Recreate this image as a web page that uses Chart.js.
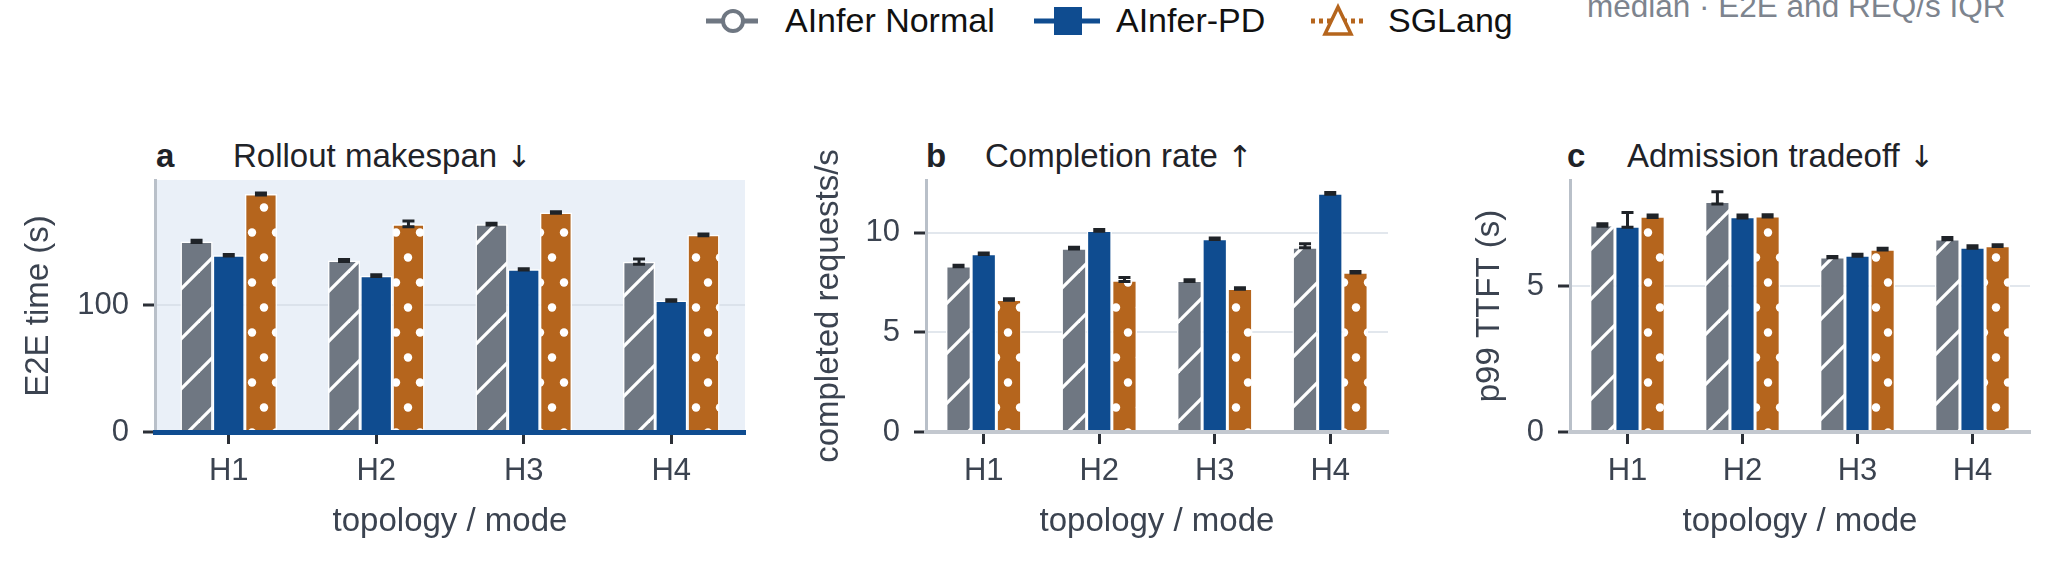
<!DOCTYPE html>
<html>
<head>
<meta charset="utf-8">
<script src="https://cdn.jsdelivr.net/npm/chart.js@4.4.1/dist/chart.umd.min.js"></script>
<style>
  body { margin: 0; width: 2048px; height: 572px; background: #fff; position: relative; overflow: hidden;
         font-family: "Liberation Sans", Arial, sans-serif; }
  canvas { position: absolute; }
  .txt { position: absolute; white-space: nowrap; font-size: 33px; line-height: 32px; color: #1f2328; }
  .arr { font-family: "DejaVu Sans", sans-serif; font-size: 30px; }
  .leg { position: absolute; white-space: nowrap; font-size: 34px; line-height: 34px; color: #111; }
  svg { position: absolute; }
</style>
</head>
<body>
<!-- legend -->
<svg style="left:704px;top:6px" width="56" height="30">
  <line x1="2" y1="15" x2="54" y2="15" stroke="#6f7782" stroke-width="5"/>
  <circle cx="29" cy="15" r="10" fill="#fff" stroke="#6f7782" stroke-width="4"/>
</svg>
<div class="leg" style="left:785px;top:3px">AInfer Normal</div>
<svg style="left:1034px;top:5px" width="68" height="32">
  <line x1="0" y1="16" x2="66" y2="16" stroke="#0f4c90" stroke-width="5"/>
  <rect x="20" y="2" width="28" height="28" fill="#0f4c90"/>
</svg>
<div class="leg" style="left:1116px;top:3px">AInfer-PD</div>
<svg style="left:1309px;top:3px" width="58" height="36">
  <line x1="2" y1="18" x2="56" y2="18" stroke="#b5651d" stroke-width="5" stroke-dasharray="4 4"/>
  <polygon points="29,4 16,31 42,31" fill="#fff" stroke="#b5651d" stroke-width="3.5"/>
</svg>
<div class="leg" style="left:1388px;top:3px">SGLang</div>
<div class="txt" style="left:1587px;top:-10px;font-size:31.5px;color:#7d848e">median · E2E and REQ/s IQR</div>

<!-- panel titles -->
<div class="txt" style="left:156px;top:140px;font-weight:bold">a</div>
<div class="txt" style="left:233px;top:140px">Rollout makespan <span class="arr">↓</span></div>
<div class="txt" style="left:926px;top:140px;font-weight:bold">b</div>
<div class="txt" style="left:985px;top:140px">Completion rate <span class="arr">↑</span></div>
<div class="txt" style="left:1567px;top:140px;font-weight:bold">c</div>
<div class="txt" style="left:1627px;top:140px">Admission tradeoff <span class="arr">↓</span></div>

<canvas id="panelA" width="760" height="452" style="left:0px;top:120px"></canvas>
<canvas id="panelB" width="620" height="452" style="left:780px;top:120px"></canvas>
<canvas id="panelC" width="628" height="452" style="left:1420px;top:120px"></canvas>

<script>
const categories = ['H1', 'H2', 'H3', 'H4'];
const seriesNames = ['AInfer Normal', 'AInfer-PD', 'SGLang'];
const seriesColors = ['#6f7782', '#0f4c90', '#b5651d'];

// a: rollout makespan, E2E time (s), median + IQR
const e2eNormal = [150.3, 135.3, 163.9, 134.3];
const e2ePD = [139.3, 123.3, 128.3, 103.7];
const e2eSGLang = [187.7, 163.9, 173.0, 155.5];
const e2eNormalIqr = [[149.5, 151.1], [134.5, 136.1], [163.3, 164.5], [132.3, 136.5]];
const e2ePDIqr = [[138.7, 139.9], [122.7, 123.9], [127.8, 128.8], [103.1, 104.3]];
const e2eSGLangIqr = [[186.9, 188.5], [161.9, 166.3], [172.4, 173.6], [154.8, 156.2]];
const e2eTicks = [0, 100];

// b: completion rate, completed requests/s
const reqNormal = [8.33, 9.23, 7.60, 9.28];
const reqPD = [8.95, 10.12, 9.70, 11.98];
const reqSGLang = [6.65, 7.62, 7.20, 8.02];
const reqNormalIqr = [[8.29, 8.37], [9.19, 9.27], [7.56, 7.64], [9.25, 9.45]];
const reqPDIqr = [[8.91, 8.99], [10.08, 10.16], [9.66, 9.74], [11.94, 12.02]];
const reqSGLangIqr = [[6.61, 6.69], [7.55, 7.75], [7.16, 7.24], [7.98, 8.06]];
const reqTicks = [0, 5, 10];

// c: admission tradeoff, p99 TTFT (s)
const ttftNormal = [7.09, 7.89, 5.99, 6.61];
const ttftPD = [7.05, 7.375, 6.05, 6.33];
const ttftSGLang = [7.39, 7.40, 6.26, 6.38];
const ttftNormalIqr = [[7.05, 7.13], [7.81, 8.23], [5.97, 6.01], [6.58, 6.66]];
const ttftPDIqr = [[7.01, 7.52], [7.33, 7.43], [6.02, 6.09], [6.29, 6.38]];
const ttftSGLangIqr = [[7.35, 7.43], [7.36, 7.44], [6.23, 6.29], [6.35, 6.41]];
const ttftTicks = [0, 5];

const FONT = '"Liberation Sans", Arial, sans-serif';
const INK = '#3b4350';
Chart.defaults.font.family = FONT;

function hatchPattern(color) {
    const c = document.createElement('canvas');
    c.width = 50; c.height = 50;
    const g = c.getContext('2d');
    g.fillStyle = color;
    g.fillRect(0, 0, 50, 50);
    g.strokeStyle = '#fff';
    g.lineWidth = 3.3;
    for (const off of [-50, 0, 50]) {
        g.beginPath();
        g.moveTo(-10 + off, 60);
        g.lineTo(60 + off, -10);
        g.stroke();
    }
    return g.createPattern(c, 'repeat');
}

function dotPattern(color) {
    const c = document.createElement('canvas');
    c.width = 24; c.height = 50;
    const g = c.getContext('2d');
    g.fillStyle = color;
    g.fillRect(0, 0, 24, 50);
    g.fillStyle = '#fff';
    for (const [x, y] of [[12, 12.5], [0, 37.5], [24, 37.5]]) {
        g.beginPath();
        g.arc(x, y, 4.2, 0, Math.PI * 2);
        g.fill();
    }
    return g.createPattern(c, 'repeat');
}

const fills = [hatchPattern(seriesColors[0]), seriesColors[1], dotPattern(seriesColors[2])];

const panelBg = {
    id: 'panelBg',
    beforeDraw(chart, args, opts) {
        if (!opts.color) return;
        const {ctx, chartArea: a} = chart;
        ctx.save();
        ctx.fillStyle = opts.color;
        ctx.fillRect(a.left, a.top, a.width, a.height);
        ctx.restore();
    }
};

const errorBars = {
    id: 'errorBars',
    afterDatasetsDraw(chart) {
        const ctx = chart.ctx, y = chart.scales.y;
        ctx.save();
        ctx.strokeStyle = '#1f2328';
        ctx.lineWidth = 3;
        chart.data.datasets.forEach((ds, di) => {
            const meta = chart.getDatasetMeta(di);
            ds.iqr.forEach(([lo, hi], i) => {
                const x = meta.data[i].x;
                const yl = y.getPixelForValue(lo), yh = y.getPixelForValue(hi);
                ctx.beginPath();
                ctx.moveTo(x, yl); ctx.lineTo(x, yh);
                ctx.moveTo(x - 6, yl); ctx.lineTo(x + 6, yl);
                ctx.moveTo(x - 6, yh); ctx.lineTo(x + 6, yh);
                ctx.stroke();
            });
        });
        ctx.restore();
    }
};

function makePanel(id, p) {
    const values = [p.normal, p.pd, p.sglang];
    const iqrs = [p.normalIqr, p.pdIqr, p.sglangIqr];
    return new Chart(document.getElementById(id), {
        type: 'bar',
        data: {
            labels: categories,
            datasets: seriesNames.map((name, i) => ({
                label: name,
                data: values[i],
                iqr: iqrs[i],
                backgroundColor: fills[i],
                borderColor: '#ffffff',
                borderWidth: 1.5,
                borderSkipped: 'bottom',
                categoryPercentage: 0.655,
                barPercentage: 1.0
            }))
        },
        plugins: [panelBg, errorBars],
        options: {
            responsive: false,
            animation: false,
            layout: { padding: { top: 60, right: p.padRight, bottom: 0, left: 0 } },
            plugins: {
                legend: { display: false },
                tooltip: { enabled: false },
                panelBg: { color: p.bg }
            },
            scales: {
                x: {
                    grid: { drawOnChartArea: false, offset: false, tickLength: 12, tickColor: '#2b2f36', tickWidth: 3 },
                    border: { color: p.baseColor, width: p.baseWidth, z: 1 },
                    ticks: { color: INK, font: { size: 31 }, padding: 9 },
                    title: { display: true, text: 'topology / mode', color: INK, font: { size: 33 }, padding: { top: 0, bottom: 30 } },
                    afterFit: s => { s.height = 140; }
                },
                y: {
                    min: 0,
                    max: p.yMax,
                    afterBuildTicks: s => { s.ticks = p.ticks.map(v => ({ value: v })); },
                    afterFit: s => { s.width = p.yWidth; },
                    grid: { color: p.gridColor, lineWidth: 2, tickLength: 12, tickColor: '#2b2f36', tickWidth: 3 },
                    border: { color: '#b9c0c9', width: 3 },
                    ticks: { color: INK, font: { size: 31 }, padding: 14 },
                    title: { display: true, text: p.yTitle, color: INK, font: { size: 33 }, padding: { top: p.titlePad, bottom: 0 } }
                }
            }
        }
    });
}

makePanel('panelA', {
    normal: e2eNormal, pd: e2ePD, sglang: e2eSGLang,
    normalIqr: e2eNormalIqr, pdIqr: e2ePDIqr, sglangIqr: e2eSGLangIqr,
    ticks: e2eTicks, yMax: 198.7, yTitle: 'E2E time (s)',
    yWidth: 155, titlePad: 19, padRight: 15,
    bg: '#eaf0f8', gridColor: '#dbe2eb', baseColor: '#0f4c90', baseWidth: 5
});
makePanel('panelB', {
    normal: reqNormal, pd: reqPD, sglang: reqSGLang,
    normalIqr: reqNormalIqr, pdIqr: reqPDIqr, sglangIqr: reqSGLangIqr,
    ticks: reqTicks, yMax: 12.65, yTitle: 'completed requests/s',
    yWidth: 146, titlePad: 29, padRight: 12,
    bg: null, gridColor: '#e2e7ed', baseColor: '#c3c8cf', baseWidth: 4
});
makePanel('panelC', {
    normal: ttftNormal, pd: ttftPD, sglang: ttftSGLang,
    normalIqr: ttftNormalIqr, pdIqr: ttftPDIqr, sglangIqr: ttftSGLangIqr,
    ticks: ttftTicks, yMax: 8.63, yTitle: 'p99 TTFT (s)',
    yWidth: 150, titlePad: 50, padRight: 18,
    bg: null, gridColor: '#e2e7ed', baseColor: '#c3c8cf', baseWidth: 4
});
</script>
</body>
</html>
